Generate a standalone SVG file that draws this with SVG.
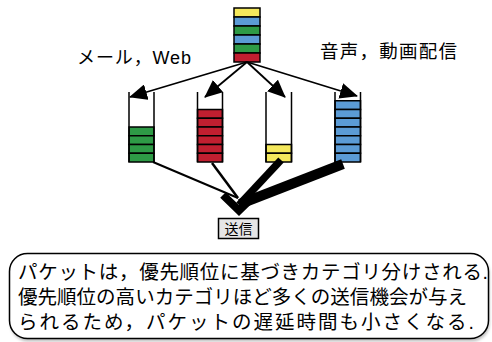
<svg xmlns="http://www.w3.org/2000/svg" width="492" height="342" viewBox="0 0 492 342">
  <style>
    .cell { stroke: #000; stroke-width: 1.5; }
    .y { fill: #f4e85c; }
    .b { fill: #5b9bd5; }
    .g { fill: #2e9a46; }
    .r { fill: #c11f30; }
    .wall { fill: none; stroke: #000; stroke-width: 1.5; }
    .jp { font-family: "Liberation Sans", "Noto Sans CJK JP", sans-serif; fill: #000; }
    .feed { stroke: #000; stroke-width: 1.8; fill: none; }
    .out { stroke: #000; fill: none; }
  </style>
  <defs>
    <marker id="head" markerUnits="userSpaceOnUse" markerWidth="18" markerHeight="16" refX="17" refY="8" orient="auto">
      <path d="M0,0 L18,8 L0,16 Z" fill="#000"/>
    </marker>
    <filter id="soft" x="-5%" y="-10%" width="110%" height="130%">
      <feGaussianBlur stdDeviation="1.5"/>
    </filter>
  </defs>

  <!-- incoming packet stream -->
  <g id="source">
    <rect class="cell y" x="234" y="8" width="26" height="9"/>
    <rect class="cell b" x="234" y="17" width="26" height="9"/>
    <rect class="cell g" x="234" y="26" width="26" height="9"/>
    <rect class="cell b" x="234" y="35" width="26" height="9"/>
    <rect class="cell g" x="234" y="44" width="26" height="9"/>
    <rect class="cell r" x="234" y="53" width="26" height="9"/>
  </g>

  <g id="label-mail">
    <text class="jp" x="77" y="64" font-size="18" textLength="114" lengthAdjust="spacing">メール，Web</text>
  </g>
  <g id="label-media">
    <text class="jp" x="320" y="58" font-size="18.5" textLength="137" lengthAdjust="spacing">音声，動画配信</text>
  </g>

  <!-- queue 1: green, 4 packets -->
  <g id="queue-green">
    <rect class="cell g" x="129" y="127" width="25" height="8.75"/>
    <rect class="cell g" x="129" y="135.75" width="25" height="8.75"/>
    <rect class="cell g" x="129" y="144.5" width="25" height="8.75"/>
    <rect class="cell g" x="129" y="153.25" width="25" height="8.75"/>
    <path class="wall" d="M129,92 V162 M154,92 V162"/>
  </g>

  <!-- queue 2: red, 6 packets -->
  <g id="queue-red">
    <rect class="cell r" x="197.5" y="109.5" width="25" height="8.75"/>
    <rect class="cell r" x="197.5" y="118.25" width="25" height="8.75"/>
    <rect class="cell r" x="197.5" y="127" width="25" height="8.75"/>
    <rect class="cell r" x="197.5" y="135.75" width="25" height="8.75"/>
    <rect class="cell r" x="197.5" y="144.5" width="25" height="8.75"/>
    <rect class="cell r" x="197.5" y="153.25" width="25" height="8.75"/>
    <path class="wall" d="M197.5,92 V162 M222.5,92 V162"/>
  </g>

  <!-- queue 3: yellow, 2 packets -->
  <g id="queue-yellow">
    <rect class="cell y" x="266" y="144.5" width="25.5" height="8.75"/>
    <rect class="cell y" x="266" y="153.25" width="25.5" height="8.75"/>
    <path class="wall" d="M266,92 V162 M291.5,92 V162"/>
  </g>

  <!-- queue 4: blue, 7 packets -->
  <g id="queue-blue">
    <rect class="cell b" x="335" y="100.75" width="25.5" height="8.75"/>
    <rect class="cell b" x="335" y="109.5" width="25.5" height="8.75"/>
    <rect class="cell b" x="335" y="118.25" width="25.5" height="8.75"/>
    <rect class="cell b" x="335" y="127" width="25.5" height="8.75"/>
    <rect class="cell b" x="335" y="135.75" width="25.5" height="8.75"/>
    <rect class="cell b" x="335" y="144.5" width="25.5" height="8.75"/>
    <rect class="cell b" x="335" y="153.25" width="25.5" height="8.75"/>
    <path class="wall" d="M335,92 V162 M360.5,92 V162"/>
  </g>

  <g id="connectors">
    <!-- classification -->
    <line class="feed" x1="247" y1="62" x2="130" y2="97" marker-end="url(#head)"/>
    <line class="feed" x1="247" y1="62" x2="205" y2="97" marker-end="url(#head)"/>
    <line class="feed" x1="247" y1="62" x2="285" y2="97" marker-end="url(#head)"/>
    <line class="feed" x1="247" y1="62" x2="357" y2="96" marker-end="url(#head)"/>
    <!-- scheduling: line weight grows with priority -->
    <line class="out" stroke-width="2" x1="153" y1="162" x2="238" y2="198"/>
    <line class="out" stroke-width="2.5" x1="212" y1="163" x2="238" y2="198"/>
    <line class="out" stroke-width="7.5" x1="281" y1="160" x2="239" y2="205"/>
    <line class="out" stroke-width="10" x1="343" y1="164" x2="240" y2="204"/>
    <polyline class="out" stroke-width="8" stroke-miterlimit="4" points="223,195 239,210.5 255,195"/>
  </g>

  <g id="send">
    <rect x="218.5" y="218.5" width="40" height="20" fill="#e6e6e6" stroke="#000" stroke-width="1.5"/>
    <text class="jp" x="238.5" y="234" font-size="14" text-anchor="middle">送信</text>
  </g>

  <g id="note">
    <rect x="10.5" y="255.5" width="479" height="86" rx="18" fill="#000" opacity="0.25" filter="url(#soft)"/>
    <rect x="9.5" y="253.5" width="479" height="85" rx="18" fill="#fff" stroke="#000" stroke-width="1.5"/>
    <text class="jp" x="18" y="279" font-size="19.5" textLength="470" lengthAdjust="spacing">パケットは，優先順位に基づきカテゴリ分けされる.</text>
    <text class="jp" x="18" y="304" font-size="19.5" textLength="449" lengthAdjust="spacing">優先順位の高いカテゴリほど多くの送信機会が与え</text>
    <text class="jp" x="18" y="329" font-size="19.5" textLength="456" lengthAdjust="spacing">られるため，パケットの遅延時間も小さくなる.</text>
  </g>
</svg>
